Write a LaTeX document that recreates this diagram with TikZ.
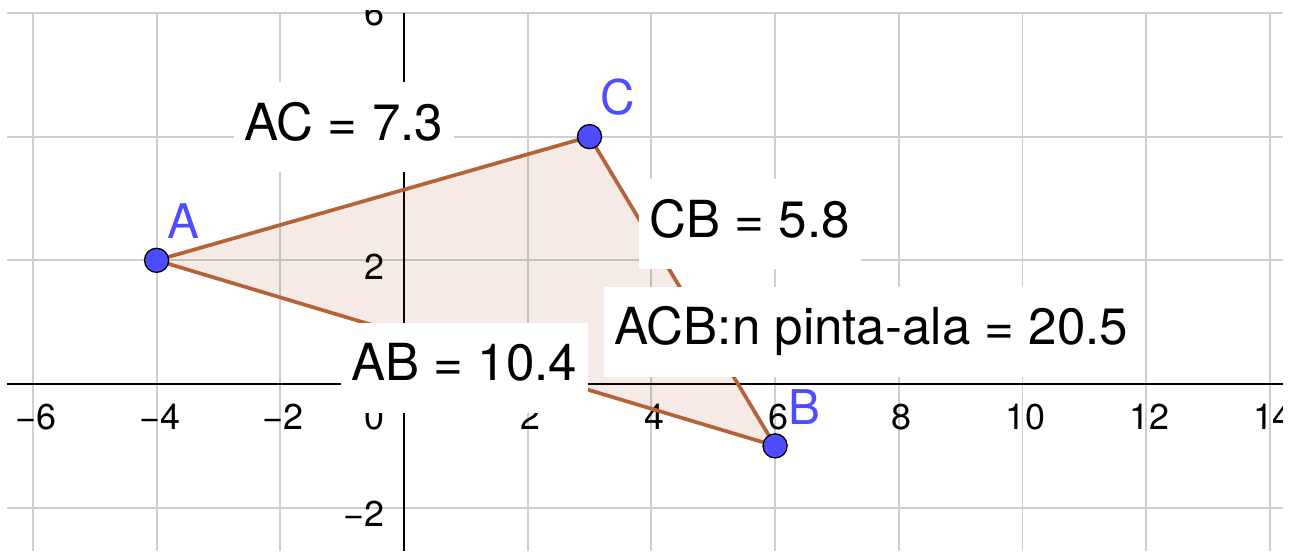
\documentclass[tikz,border=0pt]{standalone}
\usepackage{fontspec}
\setmainfont{TeX Gyre Heros}
\definecolor{ptblue}{RGB}{77,77,255}
\definecolor{polybrown}{RGB}{153,51,0}
\definecolor{edgebrown}{RGB}{181,98,56}
\definecolor{gridgray}{RGB}{206,206,206}
\tikzset{every picture/.style={line width=0.75pt}}

\begin{document}
\begin{tikzpicture}[x=1cm,y=1cm,
  gridline/.style={draw=gridgray, line width=0.9pt},
  axisline/.style={draw=black, line width=0.9pt},
  ticklabel/.style={inner sep=0pt, font=\fontsize{16.5}{20}\selectfont},
  measure/.style={fill=white, inner xsep=5pt, inner ysep=0pt, text height=26.7pt, text depth=14.7pt, anchor=base west, font=\fontsize{23.5}{28}\selectfont},
  ptlabel/.style={text=ptblue, inner sep=0pt, anchor=base west, font=\fontsize{22}{26}\selectfont},
  dot/.style={circle, fill=ptblue, draw=black, line width=0.6pt, minimum size=0.39cm, inner sep=0pt}]
\useasboundingbox (-6.532,-2.70) rectangle (14.374,6.209);
\clip (-6.419,-2.70) rectangle (14.212,6.047);

% Grid
\foreach \x in {-6,-4,...,14} \draw[gridline] (\x,-2.70) -- (\x,6);
\foreach \y in {-2,2,4,6} \draw[gridline] (-6.419,\y) -- (14.212,\y);

% Axes
\draw[axisline] (-6.419,0) -- (14.212,0);
\draw[axisline] (0,-2.70) -- (0,6);

% Tick labels
\foreach \x/\t in {-6/−6,-4/−4,-2/−2,2/2,4/4,6/6,8/8,10/10,12/12,14/14}
  \node[ticklabel] (tx\x) at (\x+0.05,-0.53) {\t};
\node[ticklabel] (tx0) at (-0.47,-0.53) {0};
\foreach \y/\t in {-2/−2,2/2}
  \node[ticklabel, anchor=east] (ty\y) at (-0.30,\y-0.10) {\t};
\node[ticklabel, anchor=east] (ty6) at (-0.30,6.0) {6};

% Triangle
\coordinate (A) at (-4,2);
\coordinate (C) at (3,4);
\coordinate (B) at (6,-1);
\fill[polybrown, fill opacity=0.1] (A) -- (C) -- (B) -- cycle;
\draw[edgebrown, line width=1.7pt] (A) -- (C) -- (B) -- cycle;

% Text Node
\node[measure] (lAC) at (-2.765,3.945) {AC = 7.3};
% Text Node
\node[measure] (lCB) at (3.783,2.377) {CB = 5.8};
% Text Node
\node[measure] (lArea) at (3.217,0.631) {ACB:n pinta-ala = 20.5};
% Text Node
\node[measure] (lAB) at (-1.035,0.05) {AB = 10.4};

% Points
\node[dot] (dA) at (A) {};
\node[dot] (dC) at (C) {};
\node[dot] (dB) at (B) {};
\node[ptlabel] (nA) at (-3.83,2.36) {A};
\node[ptlabel] (nC) at (3.17,4.35) {C};
\node[ptlabel] (nB) at (6.21,-0.66) {B};
\end{tikzpicture}
\end{document}
